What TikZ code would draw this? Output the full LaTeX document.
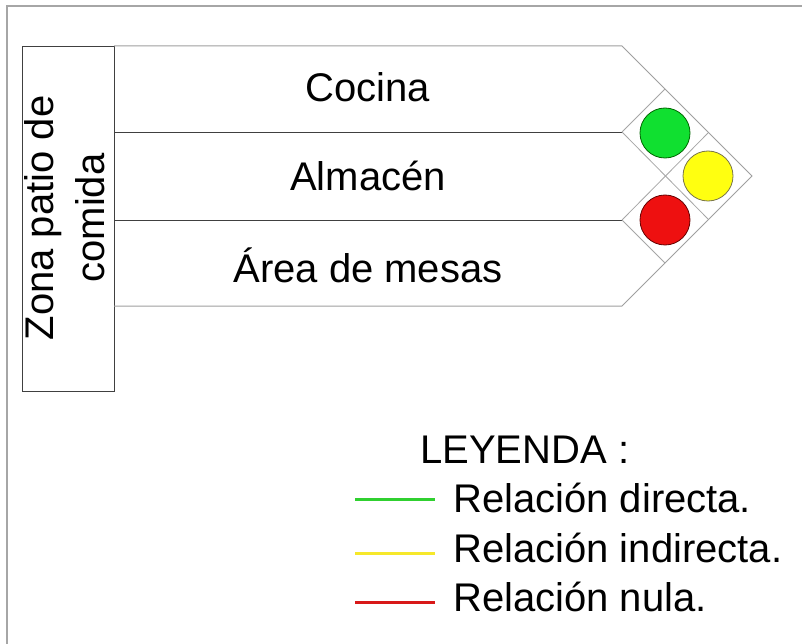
\documentclass[tikz,border=0pt]{standalone}
\usepackage{fontspec}
\setmainfont{Liberation Sans}
\definecolor{cgreen}{HTML}{10E030}
\definecolor{cyellow}{HTML}{FFFF10}
\definecolor{cred}{HTML}{EE1010}
\definecolor{lgreen}{HTML}{30D030}
\definecolor{lyellow}{HTML}{F6E82A}
\definecolor{lred}{HTML}{D81818}
\tikzset{
  frameline/.style={draw=gray!70, line width=2pt},
  boxline/.style={draw=black!75, line width=0.9pt},
  chevline/.style={draw=gray!75, line width=1pt},
  gridline/.style={draw=gray!70, line width=0.8pt},
  lbl/.style={font=\fontsize{40}{48}\selectfont, inner sep=0pt},
  dot/.style={circle, minimum size=50pt, inner sep=0pt, line width=0.8pt},
  swatch/.style={line width=3pt},
}
\begin{document}
\begin{tikzpicture}[x=1pt,y=-1pt]
\useasboundingbox (0,0) rectangle (802,644);
\fill[white] (0,0) rectangle (802,644);
% frame (top and left)
\draw[frameline] (802,6) -- (7,6) -- (7,644);
% left zone box
\draw[boxline] (22,46) rectangle (114,391);
\node[lbl, rotate=90, align=center, font=\fontsize{40}{51}\selectfont] (zona) at (65,218) {Zona patio de\\comida};
% chevron coordinates
\coordinate (t0) at (114,46);
\coordinate (t1) at (622,46);
\coordinate (tip) at (752,176);
\coordinate (b1) at (622,306);
\coordinate (b0) at (114,306);
\coordinate (m1a) at (114,132);
\coordinate (m1b) at (622,132);
\coordinate (m2a) at (114,220);
\coordinate (m2b) at (622,220);
\coordinate (g1) at (665,89);
\coordinate (g2) at (708,133);
\coordinate (g3) at (708,219);
\coordinate (g4) at (665,263);
% outline
\draw[chevline] (t0) -- (t1) -- (tip) -- (b1) -- (b0);
\draw[boxline] (m1a) -- (m1b);
\draw[boxline] (m2a) -- (m2b);
% diamond grid
\draw[gridline] (m1b) -- (g1);
\draw[gridline] (m1b) -- (g3);
\draw[gridline] (m2b) -- (g2);
\draw[gridline] (m2b) -- (g4);
% circles
\node[dot, fill=cgreen, draw=green!40!black] (cg) at (665,133) {};
\node[dot, fill=cyellow, draw=yellow!40!black] (cy) at (708,176) {};
\node[dot, fill=cred, draw=red!40!black] (cr) at (665,220) {};
% row labels
\node[lbl, anchor=base] (cocina) at (368,102) {Cocina};
\node[lbl, anchor=base] (almacen) at (368,191) {Almacén};
\node[lbl, anchor=base] (area) at (368,282) {Área de mesas};
% legend
\node[lbl, anchor=base west] (ley) at (420,463) {LEYENDA :};
\node[lbl, anchor=base west] (rd) at (453,512) {Relación directa.};
\node[lbl, anchor=base west] (ri) at (453,562) {Relación indirecta.};
\node[lbl, anchor=base west] (rn) at (453,611) {Relación nula.};
\draw[swatch, lgreen] (355,499) -- (435,499);
\draw[swatch, lyellow] (355,553) -- (435,553);
\draw[swatch, lred] (355,602) -- (435,602);
\end{tikzpicture}
\end{document}
